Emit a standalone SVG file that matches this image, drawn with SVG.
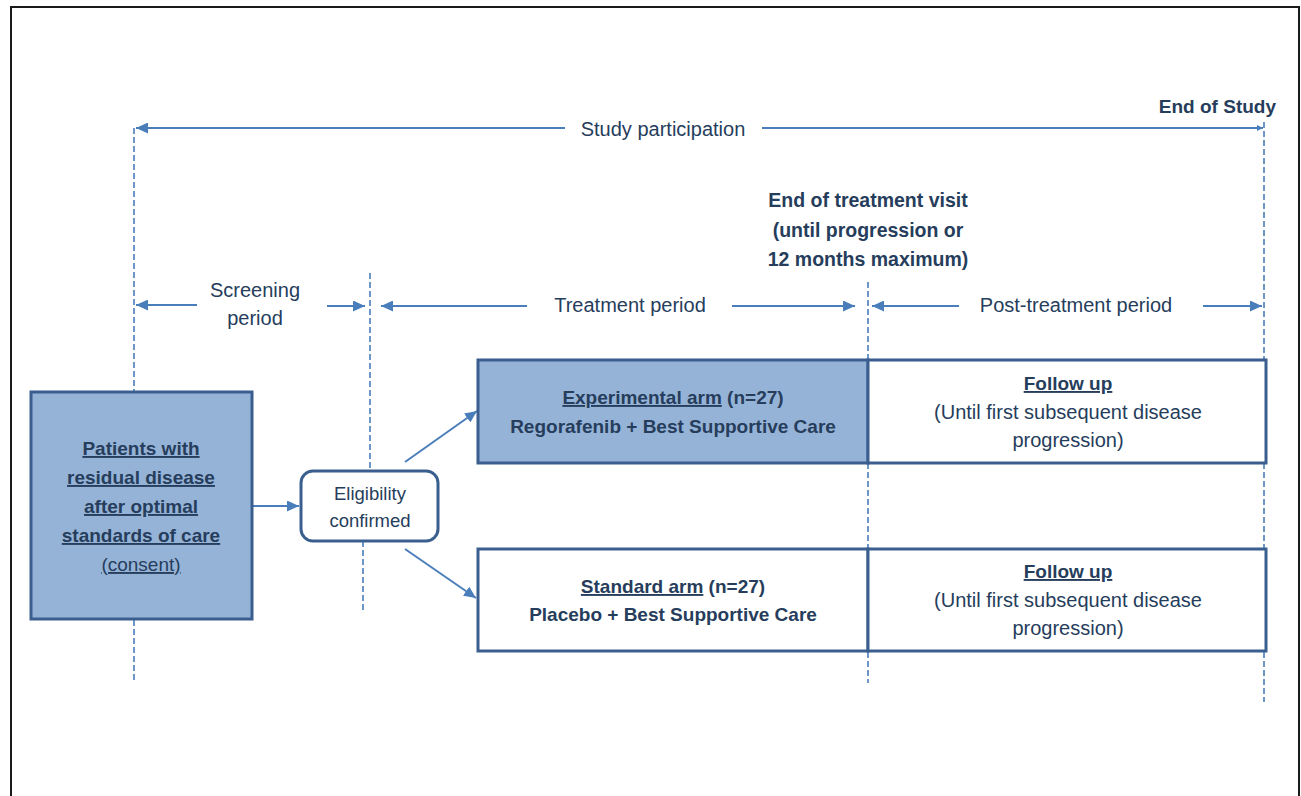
<svg xmlns="http://www.w3.org/2000/svg" width="1301" height="796" viewBox="0 0 1301 796">
<defs>
<style>
.t{font-family:"Liberation Sans",Arial,sans-serif;fill:#263d5c;text-anchor:middle}
.r{font-size:20px}
.b{font-size:19px;font-weight:bold}
.u{text-decoration:underline}
.box{stroke:#3a5f8f;stroke-width:3}
.fill{fill:#95b3d7}
.white{fill:#ffffff}
.ln{stroke:#4a7ebb;stroke-width:2;fill:none}
.dash{stroke:#4a7ebb;stroke-width:1.6;stroke-dasharray:6 3;fill:none}
</style>
<marker id="ah" markerUnits="userSpaceOnUse" markerWidth="13" markerHeight="11" refX="12" refY="5.5" orient="auto">
<path d="M0,0 L12,5.5 L0,11 Z" fill="#4a7ebb"/>
</marker>
<marker id="ahs" markerUnits="userSpaceOnUse" markerWidth="7" markerHeight="6" refX="6" refY="3" orient="auto">
<path d="M0,0 L6,3 L0,6 Z" fill="#4a7ebb"/>
</marker>
</defs>
<rect width="1301" height="796" fill="#ffffff"/>
<path d="M11,800 L11,7 L1299,7 L1299,800" fill="none" stroke="#1a1a1a" stroke-width="2"/>

<g id="guides">
<path class="dash" d="M134,128 V392 M134,620 V680"/>
<path class="dash" d="M370,273 V471 M363,541 V612"/>
<path class="dash" d="M868,282 V360 M868,463 V548 M868,652 V683"/>
<path class="dash" d="M1264,122 V360 M1264,463 V548 M1264,652 V702"/>
</g>

<g id="connectors">
<line class="ln" x1="565" y1="128" x2="136" y2="128" marker-end="url(#ah)"/>
<line class="ln" x1="762" y1="128" x2="1263" y2="128" marker-end="url(#ahs)"/>
<line class="ln" x1="197" y1="305" x2="136" y2="305" marker-end="url(#ah)"/>
<line class="ln" x1="327" y1="306" x2="365" y2="306" marker-end="url(#ah)"/>
<line class="ln" x1="527" y1="306" x2="381" y2="306" marker-end="url(#ah)"/>
<line class="ln" x1="732" y1="306" x2="855" y2="306" marker-end="url(#ah)"/>
<line class="ln" x1="959" y1="306" x2="872" y2="306" marker-end="url(#ah)"/>
<line class="ln" x1="1203" y1="306" x2="1262" y2="306" marker-end="url(#ah)"/>
<line class="ln" x1="253" y1="506" x2="299" y2="506" marker-end="url(#ah)"/>
<line class="ln" x1="405" y1="462" x2="477" y2="411" marker-end="url(#ah)"/>
<line class="ln" x1="405" y1="549" x2="476" y2="598" marker-end="url(#ah)"/>
</g>

<g id="labels">
<text class="t r" x="663" y="136">Study participation</text>
<text class="t b" x="1276" y="113" style="text-anchor:end;font-size:19px">End of Study</text>
<text class="t b" x="868" y="207" style="font-size:19.5px">End of treatment visit</text>
<text class="t b" x="868" y="237" style="font-size:19.5px">(until progression or</text>
<text class="t b" x="868" y="266" style="font-size:19.5px">12 months maximum)</text>
<text class="t r" x="255" y="297">Screening</text>
<text class="t r" x="255" y="325">period</text>
<text class="t r" x="630" y="312">Treatment period</text>
<text class="t r" x="1076" y="312">Post-treatment period</text>
</g>

<g id="patients">
<rect class="box fill" x="31" y="392" width="221" height="227"/>
<text class="t b u" x="141" y="455">Patients with</text>
<text class="t b u" x="141" y="484">residual disease</text>
<text class="t b u" x="141" y="513">after optimal</text>
<text class="t b u" x="141" y="542">standards of care</text>
<text class="t r u" x="141" y="571" style="font-size:19px">(consent)</text>
</g>

<g id="eligibility">
<rect class="box white" x="301" y="471" width="137" height="70" rx="12" ry="12"/>
<text class="t r" x="370" y="500" style="font-size:18.5px">Eligibility</text>
<text class="t r" x="370" y="527" style="font-size:18.5px">confirmed</text>
</g>

<g id="experimental">
<rect class="box fill" x="478" y="360" width="390" height="103"/>
<text class="t b" x="673" y="404"><tspan class="u">Experimental arm</tspan> (n=27)</text>
<text class="t b" x="673" y="433">Regorafenib + Best Supportive Care</text>
</g>

<g id="followup1">
<rect class="box white" x="868" y="360" width="398" height="103"/>
<text class="t b u" x="1068" y="390">Follow up</text>
<text class="t r" x="1068" y="419">(Until first subsequent disease</text>
<text class="t r" x="1068" y="447">progression)</text>
</g>

<g id="standard">
<rect class="box white" x="478" y="549" width="390" height="102"/>
<text class="t b" x="673" y="593"><tspan class="u">Standard arm</tspan> (n=27)</text>
<text class="t b" x="673" y="621">Placebo + Best Supportive Care</text>
</g>

<g id="followup2">
<rect class="box white" x="868" y="549" width="398" height="102"/>
<text class="t b u" x="1068" y="578">Follow up</text>
<text class="t r" x="1068" y="607">(Until first subsequent disease</text>
<text class="t r" x="1068" y="635">progression)</text>
</g>
</svg>
